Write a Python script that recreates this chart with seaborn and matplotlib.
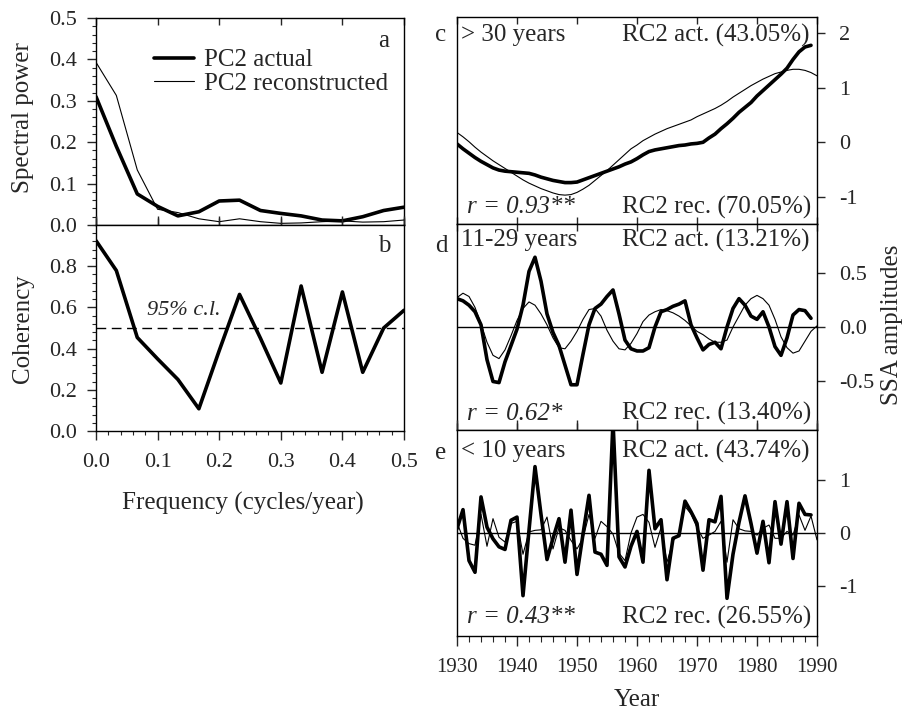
import matplotlib
matplotlib.use("Agg")
import matplotlib.pyplot as plt
import seaborn as sns
from matplotlib.ticker import MultipleLocator, FormatStrFormatter
from matplotlib.lines import Line2D

# ---------------- data ----------------
freq = [0.0, 0.033, 0.067, 0.1, 0.133, 0.167, 0.2, 0.233, 0.267, 0.3,
        0.333, 0.367, 0.4, 0.433, 0.467, 0.5]
power_actual = [0.310, 0.190, 0.075, 0.045, 0.022, 0.032, 0.058, 0.060, 0.035,
                0.028, 0.022, 0.012, 0.010, 0.020, 0.035, 0.043]
power_recon = [0.393, 0.313, 0.133, 0.038, 0.030, 0.015, 0.008, 0.015, 0.008,
               0.004, 0.005, 0.008, 0.010, 0.007, 0.008, 0.012]
coherency = [0.924, 0.779, 0.454, 0.35, 0.25, 0.108, 0.39, 0.663, 0.45, 0.233,
             0.704, 0.285, 0.675, 0.285, 0.50, 0.586]
conf_level = 0.5

years_act = list(range(1930, 1990))
years_rec = list(range(1930, 1991))

c_act = [-0.03, -0.12, -0.20, -0.28, -0.35, -0.41, -0.47, -0.51, -0.53, -0.54,
         -0.55, -0.56, -0.57, -0.60, -0.64, -0.67, -0.70, -0.72, -0.74, -0.74,
         -0.73, -0.69, -0.65, -0.61, -0.57, -0.53, -0.49, -0.45, -0.40, -0.36,
         -0.30, -0.23, -0.17, -0.14, -0.12, -0.10, -0.08, -0.06, -0.05, -0.03,
         -0.02, 0.00, 0.08, 0.15, 0.25, 0.34, 0.44, 0.55, 0.64, 0.73,
         0.85, 0.95, 1.05, 1.15, 1.25, 1.36, 1.52, 1.66, 1.75, 1.78]
c_rec = [0.18, 0.10, 0.01, -0.09, -0.18, -0.26, -0.34, -0.41, -0.48, -0.55,
         -0.62, -0.69, -0.75, -0.80, -0.85, -0.89, -0.93, -0.96, -0.97, -0.96,
         -0.92, -0.86, -0.79, -0.70, -0.61, -0.52, -0.42, -0.32, -0.22, -0.12,
         -0.05, 0.03, 0.09, 0.15, 0.20, 0.25, 0.29, 0.33, 0.37, 0.41,
         0.47, 0.52, 0.57, 0.62, 0.68, 0.75, 0.83, 0.90, 0.97, 1.04,
         1.10, 1.16, 1.21, 1.26, 1.29, 1.32, 1.34, 1.34, 1.32, 1.28, 1.22]

d_act = [0.26, 0.24, 0.20, 0.14, 0.02, -0.30, -0.50, -0.51, -0.32, -0.17,
         -0.02, 0.20, 0.51, 0.64, 0.42, 0.12, -0.05, -0.17, -0.35, -0.53,
         -0.53, -0.25, 0.02, 0.17, 0.21, 0.28, 0.34, 0.12, -0.12, -0.20,
         -0.22, -0.22, -0.19, 0.00, 0.14, 0.16, 0.19, 0.21, 0.24, 0.02,
         -0.10, -0.21, -0.16, -0.14, -0.20, 0.00, 0.17, 0.26, 0.20, 0.10,
         0.07, 0.14, 0.00, -0.18, -0.26, -0.10, 0.11, 0.16, 0.15, 0.08]
d_rec = [0.27, 0.31, 0.28, 0.18, 0.03, -0.14, -0.26, -0.29, -0.21, -0.08,
         0.06, 0.17, 0.23, 0.20, 0.12, 0.02, -0.10, -0.19, -0.20, -0.13,
         -0.04, 0.07, 0.16, 0.17, 0.10, -0.03, -0.13, -0.20, -0.21, -0.15,
         -0.06, 0.05, 0.11, 0.14, 0.16, 0.15, 0.13, 0.10, 0.06, 0.01,
         -0.04, -0.07, -0.11, -0.14, -0.14, -0.12, 0.00, 0.10, 0.20, 0.26,
         0.29, 0.26, 0.20, 0.07, -0.09, -0.19, -0.24, -0.22, -0.13, -0.04, 0.01]

e_act = [0.08, 0.44, -0.52, -0.74, 0.68, 0.11, -0.11, -0.26, -0.31, 0.24,
         0.30, -1.18, 0.05, 1.25, 0.35, -0.50, -0.10, 0.27, -0.55, 0.43,
         -0.78, -0.02, 0.71, -0.36, -0.40, -0.61, 2.10, -0.45, -0.64, -0.25,
         0.03, -0.55, 1.18, 0.08, 0.25, -0.88, -0.10, -0.05, 0.60, 0.40,
         0.18, -0.70, 0.25, 0.21, 0.69, -1.23, -0.40, 0.20, 0.70, 0.18,
         -0.38, 0.22, -0.56, 0.59, -0.21, 0.59, -0.48, 0.56, 0.35, 0.34]
e_rec = [0.20, -0.10, -0.20, -0.23, 0.35, -0.25, 0.27, -0.08, -0.17, 0.18,
         0.22, -0.40, 0.02, 0.05, 0.06, 0.30, -0.30, 0.10, 0.05, -0.14,
         -0.30, -0.10, 0.35, -0.10, 0.22, 0.12, -0.02, -0.38, -0.52, 0.00,
         0.30, 0.35, 0.20, -0.27, 0.10, -0.55, -0.15, 0.00, 0.50, 0.36,
         0.10, -0.10, -0.04, 0.03, 0.22, -0.55, 0.25, 0.08, 0.04, 0.03,
         -0.04, 0.09, 0.15, -0.10, -0.10, 0.03, -0.04, 0.34, 0.05, 0.32, -0.13]

# ---------------- style ----------------
sns.set_theme(style="ticks")
plt.rcParams['font.family'] = ['Liberation Serif', 'DejaVu Serif']
plt.rcParams['axes.linewidth'] = 1.0

W, H = 911, 722
fig = plt.figure(figsize=(W / 100, H / 100), dpi=100)


def box(x0, y0, x1, y1):
    return [x0 / W, 1 - y1 / H, (x1 - x0) / W, (y1 - y0) / H]


TICK_FS = 16
YEAR_FS = 15
LAB_FS = 18
THICK = 2.6
THIN = 0.8

axa = fig.add_axes(box(96, 18, 404, 225))
axb = fig.add_axes(box(96, 225, 404, 431))
axc = fig.add_axes(box(457, 17, 817, 224))
axd = fig.add_axes(box(457, 224, 817, 430))
axe = fig.add_axes(box(457, 430, 817, 636))

for ax in (axa, axb, axc, axd, axe):
    for s in ax.spines.values():
        s.set_visible(True)
        s.set_color('black')
        s.set_linewidth(1.0)
    ax.set_facecolor('white')

# ---- panel a ----
sns.lineplot(x=freq, y=power_actual, ax=axa, color='black', linewidth=THICK)
sns.lineplot(x=freq, y=power_recon, ax=axa, color='black', linewidth=THIN)
axa.set_xlim(0, 0.5)
axa.set_ylim(0, 0.5)
axa.yaxis.set_major_locator(MultipleLocator(0.1))
axa.yaxis.set_minor_locator(MultipleLocator(0.02))
axa.yaxis.set_major_formatter(FormatStrFormatter('%.1f'))
axa.xaxis.set_major_locator(MultipleLocator(0.1))
axa.tick_params(axis='x', which='both', bottom=True, top=True, direction='in',
                labelbottom=False, length=5, width=1)
axa.tick_params(axis='y', which='major', direction='out', length=6.5, width=1,
                labelsize=TICK_FS, pad=7)
axa.tick_params(axis='y', which='minor', direction='out', length=3, width=0.8)
axa.set_ylabel('Spectral power', fontsize=LAB_FS)
axa.yaxis.set_label_coords(-0.2, 0.52)
axa.set_xlabel('')
handles = [Line2D([], [], color='black', linewidth=THICK),
           Line2D([], [], color='black', linewidth=THIN)]
axa.legend(handles, ['PC2 actual', 'PC2 reconstructed'], loc='upper left',
           bbox_to_anchor=(0.13, 0.935), frameon=False, fontsize=LAB_FS,
           handlelength=1.6, handletextpad=0.4, labelspacing=0.05,
           borderpad=0.2)
axa.text(0.935, 0.89, 'a', transform=axa.transAxes, fontsize=LAB_FS,
         ha='center', va='center')

# ---- panel b ----
sns.lineplot(x=freq, y=coherency, ax=axb, color='black', linewidth=THICK)
axb.axhline(conf_level, color='black', linewidth=1.0, dashes=(7, 4))
axb.set_xlim(0, 0.5)
axb.set_ylim(0, 1.0)
axb.set_yticks([0.0, 0.2, 0.4, 0.6, 0.8])
axb.yaxis.set_minor_locator(MultipleLocator(0.04))
axb.yaxis.set_major_formatter(FormatStrFormatter('%.1f'))
axb.xaxis.set_major_locator(MultipleLocator(0.1))
axb.xaxis.set_minor_locator(MultipleLocator(0.02))
axb.xaxis.set_major_formatter(FormatStrFormatter('%.1f'))
axb.tick_params(axis='y', which='major', direction='out', length=6.5, width=1,
                labelsize=TICK_FS, pad=7)
axb.tick_params(axis='x', which='major', direction='out', length=6.5, width=1,
                labelsize=TICK_FS, pad=9, top=True)
axb.tick_params(axis='both', which='minor', direction='out', length=3, width=0.8)
axb.set_ylabel('Coherency', fontsize=LAB_FS)
axb.yaxis.set_label_coords(-0.2, 0.495)
axb.set_xlabel('')
axb.text(0.083, 0.585, '95% c.l.', fontsize=TICK_FS, style='italic',
         ha='left', va='center')
axb.text(0.935, 0.90, 'b', transform=axb.transAxes, fontsize=LAB_FS,
         ha='center', va='center')

# ---- right panels ----
panels = [
    (axc, c_act, c_rec, (-1.5, 2.3), [-1, 0, 1, 2], '%d', False,
     '> 30 years', 'RC2 act. (43.05%)', 'r = 0.93**', 'RC2 rec. (70.05%)',
     0.913, 0.082),
    (axd, d_act, d_rec, (-0.945, 0.945), [-0.5, 0.0, 0.5], '%.1f', True,
     '11-29 years', 'RC2 act. (13.21%)', 'r = 0.62*', 'RC2 rec. (13.40%)',
     0.922, 0.078),
    (axe, e_act, e_rec, (-1.94, 1.94), [-1, 0, 1], '%d', True,
     '< 10 years', 'RC2 act. (43.74%)', 'r = 0.43**', 'RC2 rec. (26.55%)',
     0.898, 0.092),
]
for (ax, act, rec, ylim, yt, fmt, zline, t_l, t_r, b_l, b_r, ytop, ybot) in panels:
    if zline:
        ax.axhline(0, color='black', linewidth=1.0, zorder=1)
    sns.lineplot(x=years_rec, y=rec, ax=ax, color='black', linewidth=THIN)
    sns.lineplot(x=years_act, y=act, ax=ax, color='black', linewidth=THICK)
    ax.set_xlim(1930, 1990)
    ax.set_ylim(*ylim)
    ax.set_yticks(yt)
    ax.yaxis.set_major_formatter(FormatStrFormatter(fmt))
    ax.yaxis.tick_right()
    ax.yaxis.set_label_position('right')
    ax.tick_params(axis='y', which='major', direction='out', length=6, width=1,
                   labelsize=TICK_FS, pad=10, left=False, right=True)
    ax.xaxis.set_major_locator(MultipleLocator(10))
    ax.set_xlabel('')
    ax.set_ylabel('')
    ax.text(0.012, ytop, t_l, transform=ax.transAxes, fontsize=LAB_FS,
            ha='left', va='center')
    ax.text(0.978, ytop, t_r, transform=ax.transAxes, fontsize=LAB_FS,
            ha='right', va='center')
    ax.text(0.027, ybot, b_l, transform=ax.transAxes, fontsize=LAB_FS,
            ha='left', va='center', style='italic')
    ax.text(0.985, ybot, b_r, transform=ax.transAxes, fontsize=LAB_FS,
            ha='right', va='center')

for ax in (axc, axd):
    ax.tick_params(axis='x', which='both', bottom=True, top=True,
                   direction='in', length=5, width=1, labelbottom=False)
axe.xaxis.set_minor_locator(MultipleLocator(2))
axe.tick_params(axis='x', which='major', bottom=True, direction='out',
                length=7, width=1, labelsize=YEAR_FS, pad=9)
axe.tick_params(axis='x', which='minor', bottom=True, direction='out',
                length=4, width=0.8)
axe.tick_params(axis='x', which='major', top=True)
axe.xaxis.set_major_formatter(FormatStrFormatter('%d'))

# panel letters outside right panels
fig.text(441 / W, 1 - 35 / H, 'c', fontsize=LAB_FS, ha='center', va='center')
fig.text(441 / W, 1 - 246 / H, 'd', fontsize=LAB_FS, ha='center', va='center')
fig.text(441 / W, 1 - 453 / H, 'e', fontsize=LAB_FS, ha='center', va='center')

# axis titles
fig.text(243 / W, 1 - 503 / H, 'Frequency (cycles/year)', fontsize=LAB_FS,
         ha='center', va='center')
fig.text(637 / W, 1 - 700 / H, 'Year', fontsize=LAB_FS,
         ha='center', va='center')
fig.text(892 / W, 1 - 325 / H, 'SSA amplitudes', fontsize=LAB_FS,
         ha='center', va='center', rotation=90)

fig.savefig('out.png', dpi=100, facecolor='white')
